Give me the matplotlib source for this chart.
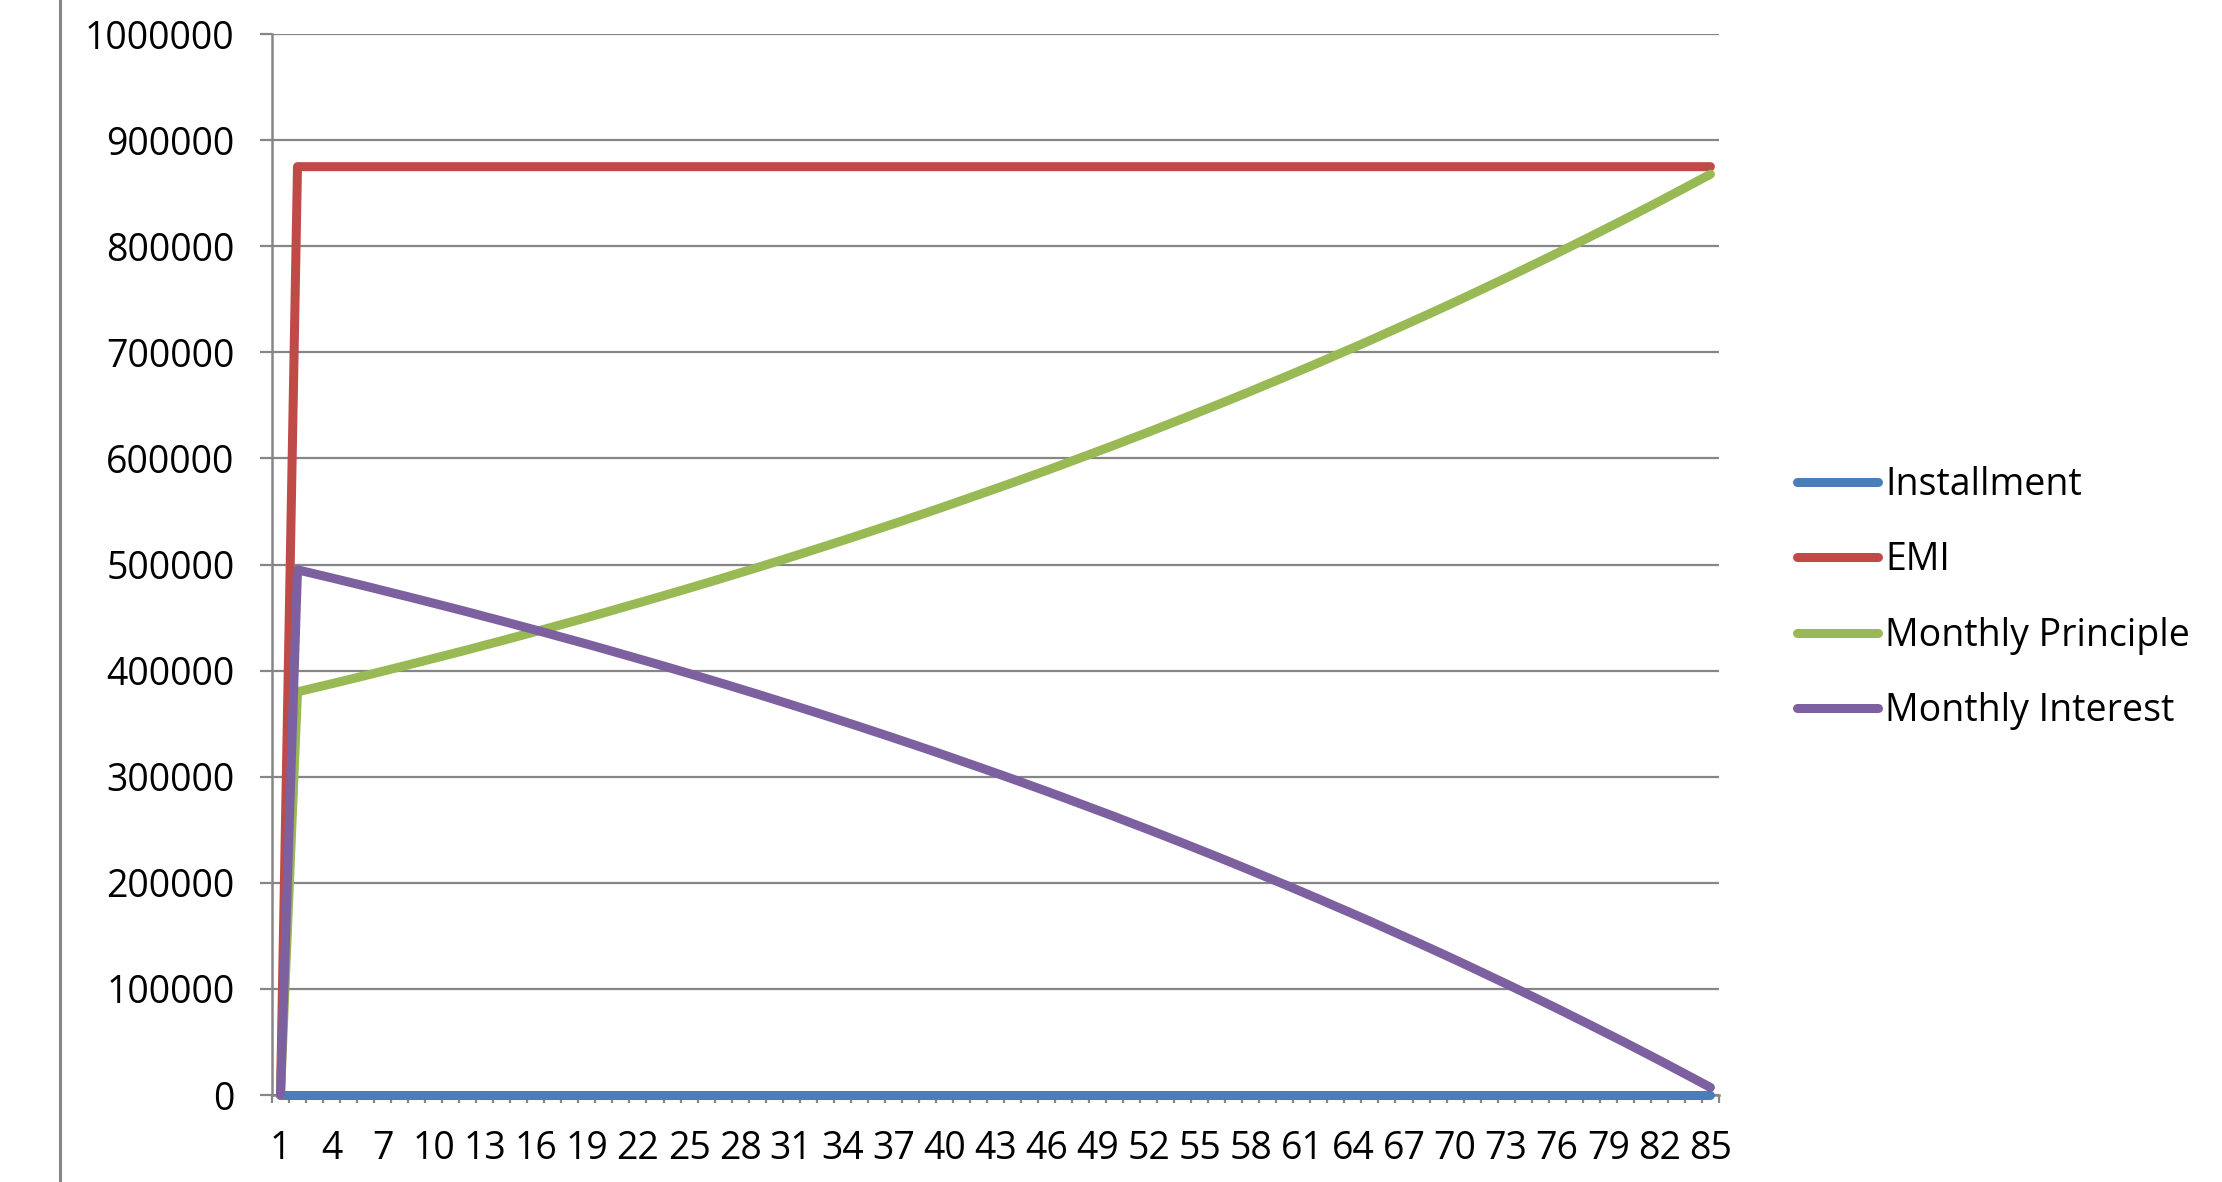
import numpy as np
import matplotlib
matplotlib.use('Agg')
import matplotlib.pyplot as plt
from matplotlib.lines import Line2D

# ==============DATA================#

# Installment number on x (categories 1..85)
months = list(range(1, 86))

# Values, in thousands
installment_k = [0] * 85
emi_k = [0] + [875] * 84
principle_k = [0,
    380.0, 383.8, 387.6, 391.5, 395.4, 399.4, 403.4, 407.4, 411.5, 415.6,
    419.7, 424.0, 428.2, 432.5, 436.8, 441.2, 445.6, 450.0, 454.5, 459.1,
    463.7, 468.3, 473.0, 477.7, 482.5, 487.3, 492.2, 497.1, 502.1, 507.1,
    512.2, 517.3, 522.5, 527.7, 533.0, 538.3, 543.7, 549.1, 554.6, 560.2,
    565.8, 571.4, 577.1, 582.9, 588.7, 594.6, 600.6, 606.6, 612.6, 618.8,
    624.9, 631.2, 637.5, 643.9, 650.3, 656.8, 663.4, 670.1, 676.7, 683.5,
    690.3, 697.3, 704.2, 711.2, 718.4, 725.6, 732.8, 740.1, 747.5, 755.0,
    762.6, 770.2, 777.9, 785.7, 793.5, 801.5, 809.5, 817.6, 825.7, 834.0,
    842.3, 850.8, 859.3, 867.9]
interest_k = [0,
    495.0, 491.2, 487.4, 483.5, 479.6, 475.6, 471.6, 467.6, 463.5, 459.4,
    455.3, 451.0, 446.8, 442.5, 438.2, 433.8, 429.4, 425.0, 420.5, 415.9,
    411.3, 406.7, 402.0, 397.3, 392.5, 387.7, 382.8, 377.9, 372.9, 367.9,
    362.8, 357.7, 352.5, 347.3, 342.0, 336.7, 331.3, 325.9, 320.4, 314.8,
    309.2, 303.6, 297.9, 292.1, 286.3, 280.4, 274.4, 268.4, 262.4, 256.2,
    250.1, 243.8, 237.5, 231.1, 224.7, 218.2, 211.6, 204.9, 198.3, 191.5,
    184.7, 177.7, 170.8, 163.8, 156.6, 149.4, 142.2, 134.9, 127.5, 120.0,
    112.4, 104.8, 97.1, 89.3, 81.5, 73.5, 65.5, 57.4, 49.3, 41.0,
    32.7, 24.2, 15.7, 7.1]

series_names = ['Installment', 'EMI', 'Monthly Principle', 'Monthly Interest']
series_colors = ['#4A7EBB', '#BE4B48', '#98B954', '#7D60A0']

y_ticks = list(range(0, 1000001, 100000))
x_labels = list(range(1, 86, 3))

# ==============PLOT================#

plt.rcParams['font.family'] = ['Open Sans', 'DejaVu Sans']
grey = '#868686'

fig = plt.figure(figsize=(22.22, 11.82), dpi=100)
ax = fig.add_axes([0.1224, 0.0736, 0.7736 - 0.1224, 0.9712 - 0.0736])

series = [installment_k, emi_k, principle_k, interest_k]
for values, name, color in zip(series, series_names, series_colors):
    ax.plot(months, np.array(values) * 1000, color=color, lw=6.5,
            label=name, solid_capstyle='round', solid_joinstyle='round',
            clip_on=False, zorder=3)

# Axes
ax.set_xlim(0.5, 85.5)
ax.set_ylim(0, 1000000)
ax.set_yticks(y_ticks)
ax.set_yticklabels([str(v) for v in y_ticks])
ax.set_xticks(x_labels)
ax.set_xticklabels([str(v) for v in x_labels])
ax.set_xticks(np.arange(0.5, 86, 1), minor=True)

ax.grid(axis='y', color=grey, lw=1.6, zorder=1)
for side in ['top', 'right']:
    ax.spines[side].set_visible(False)
for side in ['left', 'bottom']:
    ax.spines[side].set_color(grey)
    ax.spines[side].set_linewidth(1.8)

ax.tick_params(axis='y', length=9, width=1.6, color=grey, pad=18,
               labelsize=27)
ax.tick_params(axis='x', which='major', length=0, pad=25, labelsize=27)
ax.tick_params(axis='x', which='minor', length=6, width=1.6, color=grey)

# Legend
leg = ax.legend(loc='center left', bbox_to_anchor=(0.8087, 0.494),
                bbox_transform=fig.transFigure, frameon=False, fontsize=27,
                handlelength=2.15, handletextpad=0.2, labelspacing=1.0,
                borderpad=0, borderaxespad=0)

# Chart-area border on the left
fig.add_artist(Line2D([0.027, 0.027], [0, 1], color=grey, lw=2.2,
                      transform=fig.transFigure))

fig.savefig('out.png', dpi=100)
